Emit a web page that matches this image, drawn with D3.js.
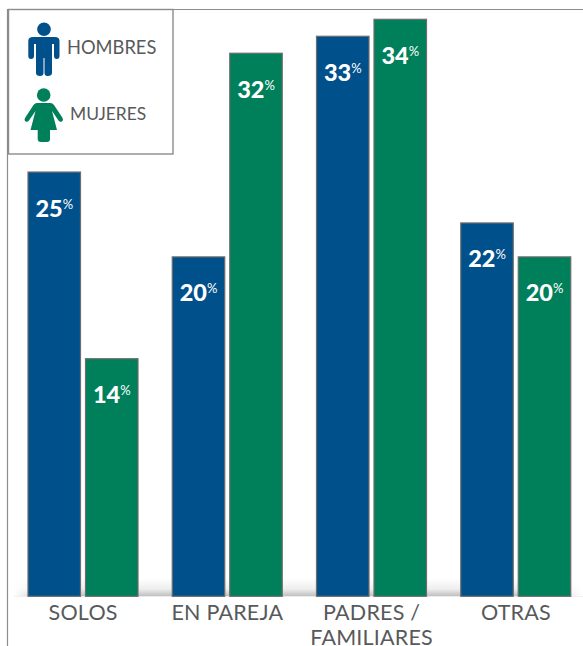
<!DOCTYPE html>
<html><head><meta charset="utf-8">
<script src="https://cdnjs.cloudflare.com/ajax/libs/d3/7.8.5/d3.min.js"></script>
<style>html,body{margin:0;padding:0;background:#fff}svg{display:block}text{font-family:Lato,sans-serif}</style>
</head><body><svg id="c" width="583" height="646"></svg>
<script>
const categories = ["SOLOS", "EN PAREJA", "PADRES /|FAMILIARES", "OTRAS"];
const seriesNames = ["HOMBRES", "MUJERES"];
const hombres = [25, 20, 33, 22];
const mujeres = [14, 32, 34, 20];
const colors = ["#00508c", "#007f5b"];
const seriesValues = [hombres, mujeres];

const svg = d3.select("#c");
const y = d3.scaleLinear().domain([0, 34]).range([596.3, 19.3]);
const x0 = d3.scaleBand().domain(categories).range([11, 588]);
const x1 = d3.scaleBand().domain(seriesNames).range([17, 127]).paddingInner(0.087);

const defs = svg.append("defs");
const g = defs.append("linearGradient").attr("id","fade").attr("x1",0).attr("x2",0).attr("y1",0).attr("y2",1);
g.append("stop").attr("offset",0).attr("stop-color","#fff");
g.append("stop").attr("offset",0.6).attr("stop-color","#eeeeee");
g.append("stop").attr("offset",1).attr("stop-color","#bdbdbd");
const hg = defs.append("linearGradient").attr("id","edge").attr("x1",0).attr("x2",1);
hg.append("stop").attr("offset",0).attr("stop-color","#fff");
hg.append("stop").attr("offset",0.05).attr("stop-color","#fff").attr("stop-opacity",0);
hg.append("stop").attr("offset",0.92).attr("stop-color","#fff").attr("stop-opacity",0);
hg.append("stop").attr("offset",1).attr("stop-color","#fff");

// base shadow
svg.append("rect").attr("x",14).attr("y",y(0)-18).attr("width",569).attr("height",18).attr("fill","url(#fade)");
svg.append("rect").attr("x",14).attr("y",y(0)-18).attr("width",569).attr("height",18).attr("fill","url(#edge)");

// frame
svg.append("path").attr("d","M7.5,646V9.5H583").attr("fill","none").attr("stroke","#8c8c8c").attr("stroke-width",1.2);

// bars
seriesNames.forEach((s, si) => {
  const gs = svg.append("g");
  gs.selectAll("rect").data(categories).join("rect")
    .attr("x", c => x0(c) + x1(s))
    .attr("y", (c,i) => y(seriesValues[si][i]))
    .attr("width", x1.bandwidth())
    .attr("height", (c,i) => y(0) - y(seriesValues[si][i]))
    .attr("fill", colors[si])
    .attr("stroke", "#6d6d6d").attr("stroke-width", 1.2);
  const t = gs.selectAll("text").data(categories).join("text")
    .attr("x", c => x0(c) + x1(s) + x1.bandwidth()/2)
    .attr("y", (c,i) => y(seriesValues[si][i]) + 44.5)
    .attr("text-anchor","middle").attr("fill","#fff").attr("font-weight",900).attr("font-size",23.5);
  t.append("tspan").text((c,i) => seriesValues[si][i]);
  t.append("tspan").text("%").attr("font-size",13).attr("font-weight",400).attr("dy",-8);
});

// category axis
const axis = svg.append("g").attr("transform",`translate(0,${y(0)})`)
  .call(d3.axisBottom(x0).tickSize(0).tickPadding(0));
axis.select(".domain").remove();
axis.selectAll("text").each(function(d){
  const el = d3.select(this).text(null).attr("y",null).attr("dy",null)
    .attr("font-size",21.5).attr("letter-spacing",0.2).attr("fill","#58595b").style("font-family","Lato,sans-serif").attr("text-anchor","middle");
  d.split("|").forEach((line,i) => el.append("tspan").attr("x",0).attr("y",24.2+i*24.2).text(line));
});

// legend
const lg = svg.append("g");
lg.append("rect").attr("x",8.5).attr("y",9.5).attr("width",164.5).attr("height",144.5)
  .attr("fill","#fff").attr("stroke","#8c8c8c").attr("stroke-width",1.4);
const man = lg.append("g").attr("fill",colors[0]);
man.append("circle").attr("cx",44).attr("cy",29.3).attr("r",6.8);
man.append("path").attr("d","M33,37H55Q59.5,37 59.5,41V56Q59.5,59 56.8,59Q54,59 54,56V44H52V73Q52,76 47.5,76Q44.5,76 44.5,73V58H43.5V73Q43.5,76 40,76Q36,76 36,73V44H34V56Q34,59 31,59Q28.3,59 28.3,56V41Q28.3,37 33,37Z");
const woman = lg.append("g").attr("fill",colors[1]);
woman.append("circle").attr("cx",43.7).attr("cy",95).attr("r",6.8);
woman.append("path").attr("d","M37,103H50.5Q52.5,103 54,105L62.6,118Q63.8,120 62,121.5Q60,122.5 58.5,120.5L52,111L57,130H50V139Q50,142 47,142H41Q37.7,142 37.7,139V130H30.5L35.5,111L29,120.5Q27.5,122.5 25.5,121.5Q23.7,120 25,118L33.5,105Q35,103 37,103Z");
lg.selectAll("text").data(seriesNames).join("text")
  .attr("x",(d,i)=>[67,70][i]).attr("y",(d,i)=>[54,120][i])
  .attr("font-size",(d,i)=>[18.3,17.4][i]).attr("fill","#58595b").text(d=>d);
</script></body></html>
